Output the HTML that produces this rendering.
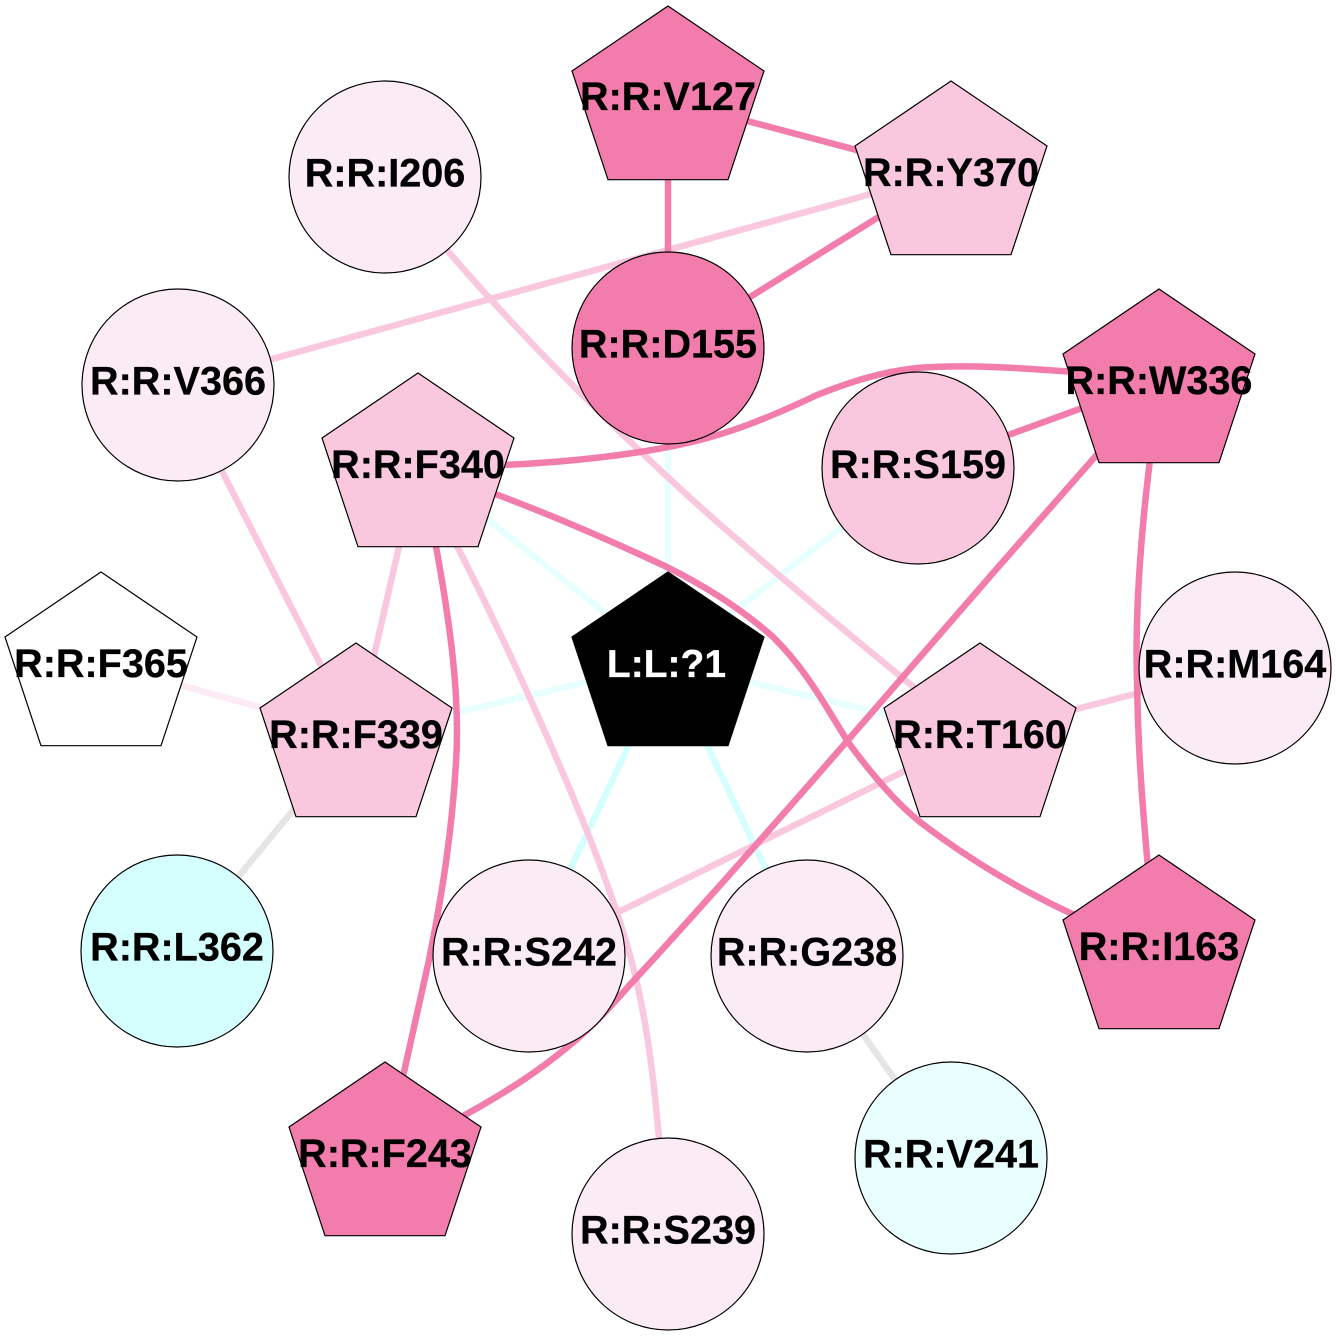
<!DOCTYPE html>
<html><head><meta charset="utf-8"><style>
html,body{margin:0;padding:0;background:#fff}
svg{display:block}
text{font-family:"Liberation Sans",sans-serif;font-weight:bold;font-size:39.6px;text-anchor:middle;stroke:currentColor;stroke-width:.3}
.n{stroke:#000;stroke-width:1.2}
.e{fill:none;stroke-width:6.5}
</style></head><body>
<svg width="1336" height="1336" viewBox="0 0 1336 1336" xmlns="http://www.w3.org/2000/svg">
<rect width="1336" height="1336" fill="#fff"/>
<g class="e">
<g stroke="#E8FFFF">
<path d="M668 348V663"/><path d="M418 464L668 663"/><path d="M918 468L668 663"/><path d="M356 736L668 663"/><path d="M980 736L668 663"/>
</g>
<g stroke="#D5FFFF">
<path d="M529 956L668 663"/><path d="M807 956L668 663"/>
</g>
<path d="M177 951L356 734" stroke="#E5E5E5"/>
<path d="M807 956L951 1158" stroke="#E5E5E5"/>
<path d="M101 663L356 734" stroke="#FBEBF4"/>
<g stroke="#F9C8DF">
<path d="M178 385L951 172"/>
<path d="M420 220L447 250C500 312,580 396,673 482C720 526,830 620,930 700"/>
<path d="M178 385L356 734"/>
<path d="M418 464L356 734"/>
<path d="M980 734L1235 668"/>
<path d="M980 734L529 956"/>
<path d="M450 532L458 548C500 630,545 730,573 797S625 930,637 983S655 1090,660 1150"/>
</g>
<g stroke="#F27DAD">
<path d="M668 97V348"/>
<path d="M668 100L951 175"/>
<path d="M668 348L951 172"/>
<path d="M918 468L1159 380"/>
<path d="M480 466L500 465C560 463,640 455,700 440C730 432,760 422,817 395C850 382,880 372,917 368C970 364,1020 368,1090 373"/>
<path d="M470 484L490 492C560 518,620 545,667 567C695 581,735 603,773 637C805 668,825 705,848 742C870 772,895 802,920 822C950 845,1000 880,1070 913L1110 930"/>
<path d="M1130 417L1000 565C950 622,900 680,848 740S690 920,637 977C615 1001,600 1020,570 1045S510 1090,465 1115L400 1150"/>
<path d="M432 525C452 630,460 700,456 763C452 830,443 890,429 960L400 1090"/>
<path d="M1152 440L1150 460C1140 540,1135 620,1137 680C1138 750,1142 800,1149 880"/>
</g>
</g>
<g class="n">
<circle cx="385" cy="177" r="96" fill="#FBEBF4"/>
<circle cx="668" cy="348" r="96" fill="#F27DAD"/>
<circle cx="178" cy="385" r="96" fill="#FBEBF4"/>
<circle cx="918" cy="468" r="96" fill="#F9C8DF"/>
<circle cx="1235" cy="668" r="96" fill="#FBEBF4"/>
<circle cx="177" cy="951" r="96" fill="#D5FFFF"/>
<circle cx="529" cy="956" r="96" fill="#FBEBF4"/>
<circle cx="807" cy="956" r="96" fill="#FBEBF4"/>
<circle cx="951" cy="1158" r="96" fill="#E9FFFF"/>
<circle cx="668" cy="1234" r="96" fill="#FBEBF4"/>
<polygon transform="translate(668 6)" points="0,0 96,65 60,173.7 -60,173.7 -96,65" fill="#F27DAD"/>
<polygon transform="translate(951 81)" points="0,0 96,65 60,173.7 -60,173.7 -96,65" fill="#F9C8DF"/>
<polygon transform="translate(1159 289)" points="0,0 96,65 60,173.7 -60,173.7 -96,65" fill="#F27DAD"/>
<polygon transform="translate(418 373)" points="0,0 96,65 60,173.7 -60,173.7 -96,65" fill="#F9C8DF"/>
<polygon transform="translate(101 572)" points="0,0 96,65 60,173.7 -60,173.7 -96,65" fill="#FFFFFF"/>
<polygon transform="translate(668 572)" points="0,0 96,65 60,173.7 -60,173.7 -96,65" fill="#000"/>
<polygon transform="translate(356 643)" points="0,0 96,65 60,173.7 -60,173.7 -96,65" fill="#F9C8DF"/>
<polygon transform="translate(980 643)" points="0,0 96,65 60,173.7 -60,173.7 -96,65" fill="#F9C8DF"/>
<polygon transform="translate(1159 855)" points="0,0 96,65 60,173.7 -60,173.7 -96,65" fill="#F27DAD"/>
<polygon transform="translate(385 1062)" points="0,0 96,65 60,173.7 -60,173.7 -96,65" fill="#F27DAD"/>
</g>
<g fill="#000" color="#000">
<text x="668" y="110">R:R:V127</text>
<text x="951" y="186">R:R:Y370</text>
<text x="385" y="186.5">R:R:I206</text>
<text x="668" y="357.5">R:R:D155</text>
<text x="178" y="394.5">R:R:V366</text>
<text x="1159" y="394">R:R:W336</text>
<text x="418" y="478">R:R:F340</text>
<text x="918" y="478">R:R:S159</text>
<text x="101" y="677">R:R:F365</text>
<text x="666.5" y="677" fill="#fff" color="#fff" style="font-size:39px">L:L:?1</text>
<text x="1235" y="677.5">R:R:M164</text>
<text x="356" y="748">R:R:F339</text>
<text x="980" y="748">R:R:T160</text>
<text x="177" y="960.5">R:R:L362</text>
<text x="1159" y="960">R:R:I163</text>
<text x="529" y="965.5">R:R:S242</text>
<text x="807" y="965.5">R:R:G238</text>
<text x="385" y="1167">R:R:F243</text>
<text x="951" y="1167.5">R:R:V241</text>
<text x="668" y="1243.5">R:R:S239</text>
</g>
</svg>
</body></html>
